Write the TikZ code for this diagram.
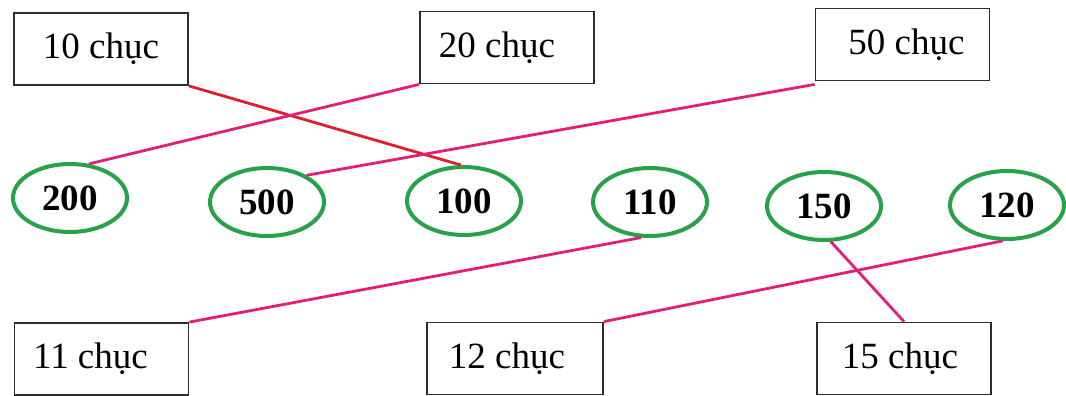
\documentclass[tikz,border=0pt]{standalone}
\usepackage{fontspec}
\setmainfont{Liberation Serif}
\usetikzlibrary{shapes.geometric}
\definecolor{ringgreen}{RGB}{38,162,72}
\definecolor{linkpink}{RGB}{226,30,120}
\definecolor{linkred}{RGB}{226,28,48}
\definecolor{boxgray}{RGB}{45,45,45}
\tikzset{
  wordbox/.style={draw=boxgray, line width=1.8pt, rectangle, inner sep=0pt,
    minimum width=174pt, minimum height=72pt, font=\fontsize{37}{40}\selectfont},
  numring/.style={draw=ringgreen, line width=4pt, ellipse, inner sep=0pt,
    minimum width=114pt, minimum height=68pt, font=\fontsize{37}{40}\selectfont\bfseries},
  pinklink/.style={draw=linkpink, line width=2.8pt},
  redlink/.style={draw=linkred, line width=2.8pt}
}
\begin{document}
\begin{tikzpicture}[x=1pt,y=-1pt]
\useasboundingbox (0,0) rectangle (1066,396);
% top boxes
\node[wordbox] (c10) at (101,49) {10 chục};
\node[wordbox] (c20) at (507,47.5) {\hspace*{-20pt}20 chục};
\node[wordbox] (c50) at (902.5,44.5) {\hspace*{8pt}50 chục};
% rings
\node[numring] (n200) at (70,198) {200};
\node[numring] (n500) at (267,202) {500};
\node[numring] (n100) at (464,201) {100};
\node[numring] (n110) at (650,202) {110};
\node[numring] (n150) at (824,206) {150};
\node[numring] (n120) at (1007,205) {120};
% bottom boxes
\node[wordbox] (c11) at (101.5,359) {\hspace*{-22pt}11 chục};
\node[wordbox, minimum width=176pt] (c12) at (515,358.5) {\hspace*{-16pt}12 chục};
\node[wordbox] (c15) at (904,358.5) {\hspace*{-8pt}15 chục};
% links
\draw[redlink] (c10.south east) -- (n100.95);
\draw[pinklink] (c20.south west) -- (n200.61);
\draw[pinklink] ([yshift=-3pt]c50.south west) -- (n500.34);
\draw[pinklink] (n110.256) -- (c11.north east);
\draw[pinklink] (n120.263) -- (c12.north east);
\draw[pinklink] (n150.281) -- (c15.north);
\end{tikzpicture}
\end{document}
